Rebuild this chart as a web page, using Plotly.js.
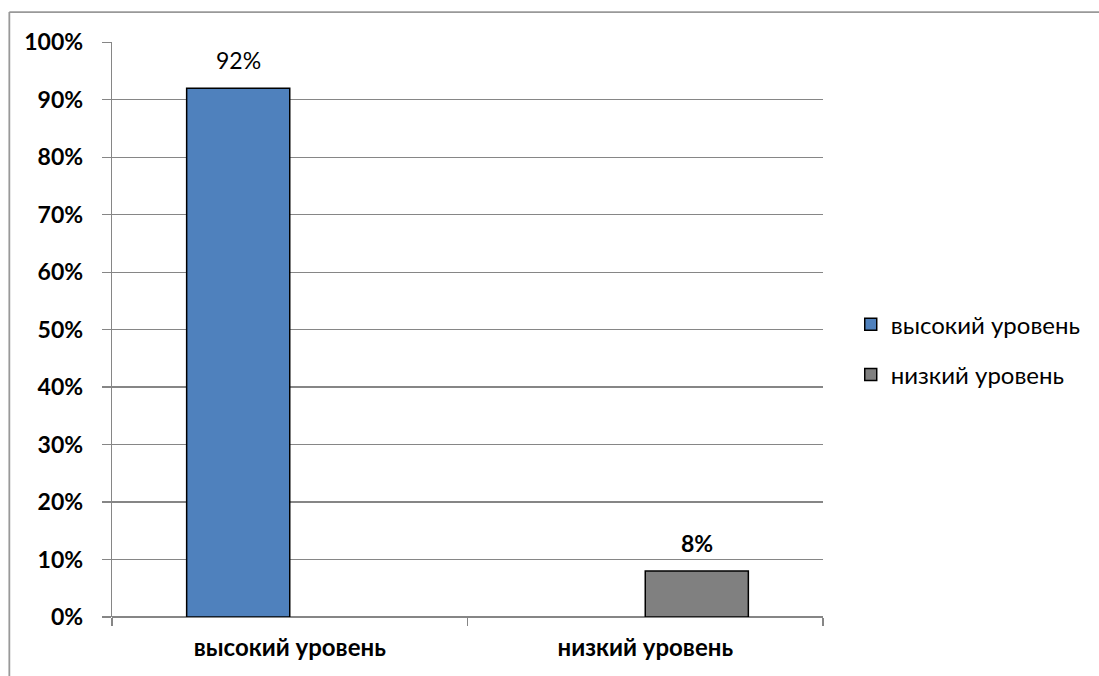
<!DOCTYPE html>
<html><head><meta charset="utf-8">
<script src="https://cdn.plot.ly/plotly-3.0.1.min.js"></script>
<style>html,body{margin:0;padding:0;background:#fff}</style>
</head><body>
<div id="chart" style="width:1099px;height:676px"></div>
<script>
const categories = ["высокий уровень", "низкий уровень"];
const seriesNames = ["высокий уровень", "низкий уровень"];
const highValues = [0.92, null];
const lowValues = [null, 0.08];
const yTicks = [0, 0.1, 0.2, 0.3, 0.4, 0.5, 0.6, 0.7, 0.8, 0.9, 1.0];

const FONT = "Lato, Noto Sans, sans-serif";
const BARGAP = 0.42;
const traces = [
  {type: "bar", name: seriesNames[0], legendgroup: "a", x: categories, y: highValues,
   marker: {color: "#4F81BD", line: {color: "#000", width: 1.5}}},
  {type: "bar", name: seriesNames[1], legendgroup: "b", x: categories, y: lowValues,
   marker: {color: "#808080", line: {color: "#000", width: 1.5}}}
];

// data labels built from the arrays
const plotW = 1099 - 112 - 276;
const slot = plotW / categories.length * (1 - BARGAP) / 2;
const annotations = [];
[[highValues, -slot / 2, "normal"], [lowValues, slot / 2, "bold"]].forEach(([vals, dx, w]) => {
  vals.forEach((v, i) => {
    if (v == null) return;
    annotations.push({x: categories[i], y: v, xref: "x", yref: "y",
      text: Math.round(v * 100) + "%", showarrow: false,
      xshift: dx, yshift: 28, yanchor: "middle",
      font: {family: FONT, size: 23, color: "#000", weight: w}});
  });
});

const layout = {
  width: 1099, height: 676,
  margin: {l: 112, r: 276, t: 41.5, b: 59},
  paper_bgcolor: "#fff", plot_bgcolor: "#fff",
  font: {family: FONT, color: "#000"},
  barmode: "group", bargap: BARGAP, bargroupgap: 0,
  showlegend: true,
  legend: {x: 1.039, y: 0.465, xanchor: "left", yanchor: "middle",
           font: {family: FONT, size: 24, color: "#000"}, tracegroupgap: 16,
           itemwidth: 30},
  xaxis: {type: "category", showgrid: false, showline: false, zeroline: false,
          ticks: "outside", tickson: "boundaries", ticklen: 8, tickcolor: "#868686", tickwidth: 1.3,
          ticklabelstandoff: 14,
          tickfont: {family: FONT, size: 24, weight: "bold", color: "#000"}},
  yaxis: {range: [0, 1.0005], tickvals: yTicks, tickformat: ".0%",
          showgrid: true, gridcolor: "#868686", gridwidth: 1.3,
          showline: true, linecolor: "#868686", linewidth: 1.3,
          zeroline: true, zerolinecolor: "#868686", zerolinewidth: 1.3,
          ticks: "outside", ticklen: 9, tickcolor: "#868686", tickwidth: 1.3,
          ticklabelstandoff: 14,
          tickfont: {family: FONT, size: 23, weight: "bold", color: "#000"}},
  annotations: annotations,
  shapes: [
    {type: "line", xref: "paper", yref: "paper", x0: -0.1444, x1: -0.1444, y0: 1.052, y1: -0.2, line: {color: "#999", width: 1.8}},
    {type: "line", xref: "paper", yref: "paper", x0: -0.1444, x1: 1.5, y0: 1.052, y1: 1.052, line: {color: "#999", width: 1.8}}
  ]
};
Plotly.newPlot("chart", traces, layout, {displayModeBar: false, staticPlot: true});
</script>
</body></html>
